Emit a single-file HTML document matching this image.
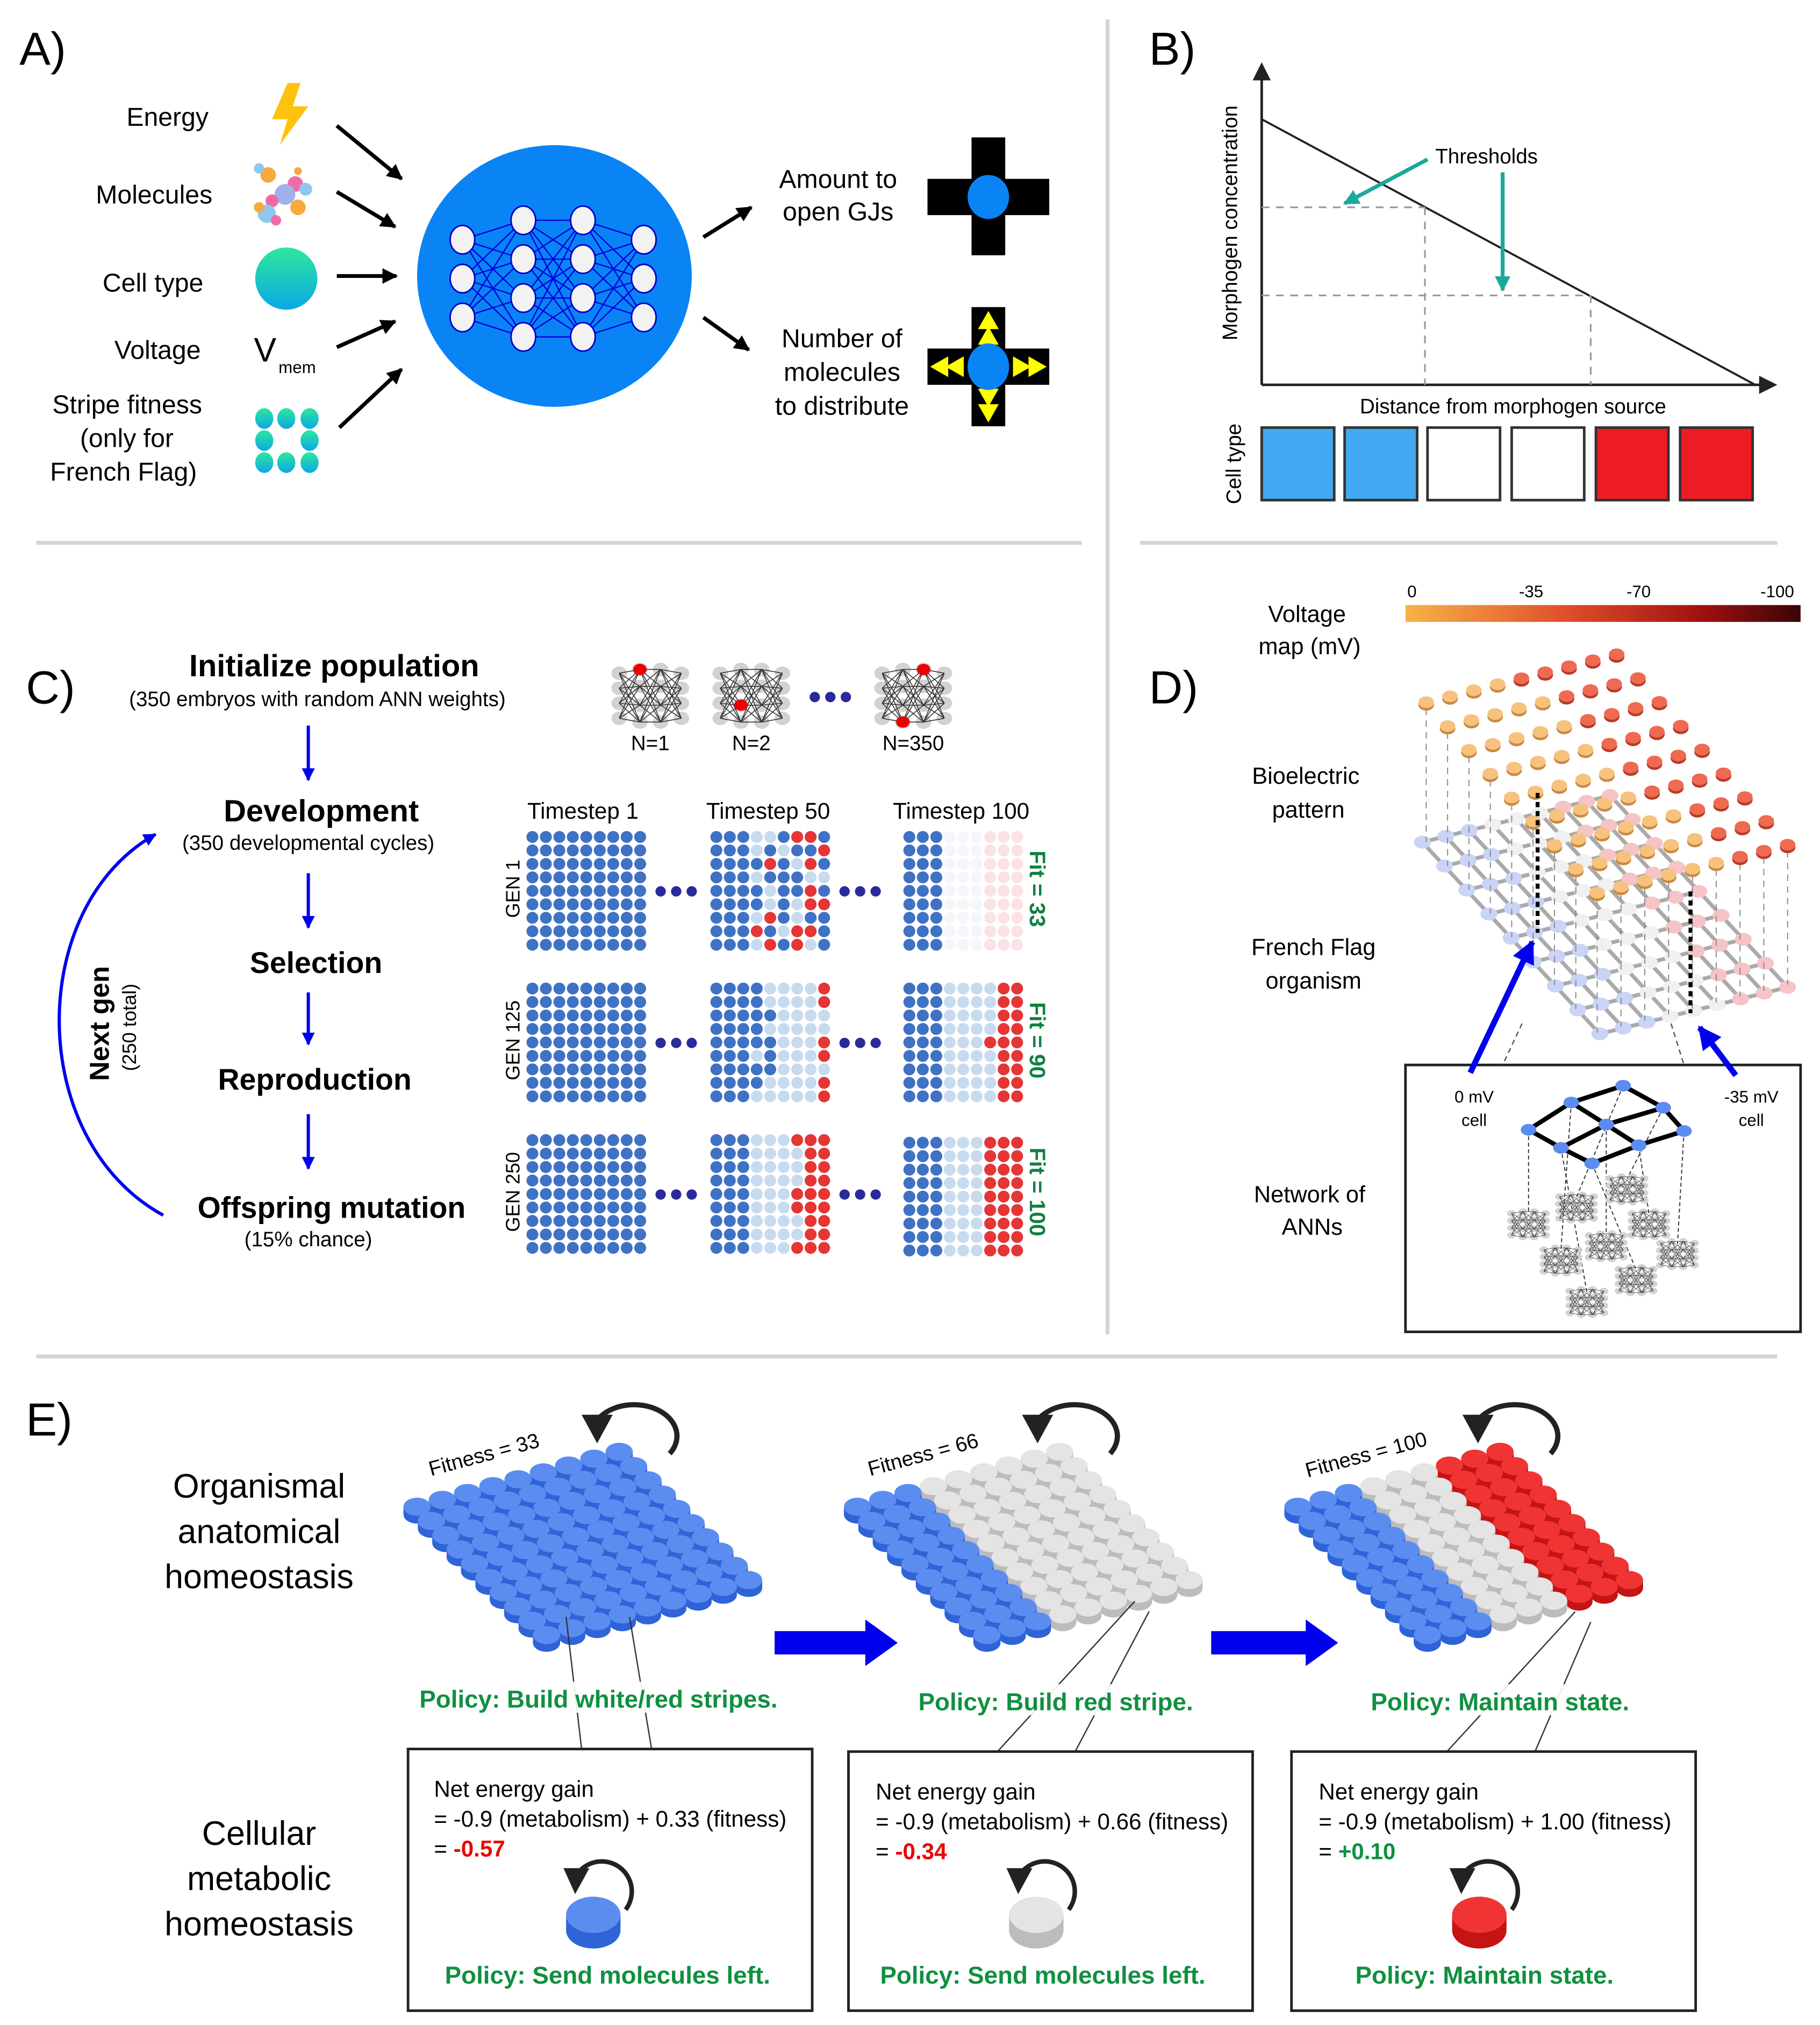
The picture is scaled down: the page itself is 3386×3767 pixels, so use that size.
<!DOCTYPE html>
<html><head><meta charset="utf-8">
<style>
html,body{margin:0;padding:0;background:#fff;}
svg{display:block;}
text{font-family:"Liberation Sans",sans-serif;}
</style></head>
<body>
<svg id="s" xmlns="http://www.w3.org/2000/svg" width="3386" height="3767" viewBox="0 0 1405 1563">
<defs>
<marker id="ab" viewBox="0 0 10 10" refX="9" refY="5" markerWidth="4" markerHeight="4" orient="auto"><path d="M0,0L10,5L0,10z" fill="#000"/></marker>
<marker id="abl" viewBox="0 0 10 10" refX="9" refY="5" markerWidth="4" markerHeight="4" orient="auto"><path d="M0,0L10,5L0,10z" fill="#0000ee"/></marker>
<marker id="at" viewBox="0 0 10 10" refX="9" refY="5" markerWidth="4" markerHeight="4" orient="auto"><path d="M0,0L10,5L0,10z" fill="#1aa89a"/></marker>
<linearGradient id="vg" x1="0" x2="1"><stop offset="0" stop-color="#f7b348"/><stop offset="0.4" stop-color="#e0502a"/><stop offset="0.75" stop-color="#a01010"/><stop offset="1" stop-color="#3a0505"/></linearGradient>
<linearGradient id="tg" x1="0" y1="0" x2="0" y2="1"><stop offset="0" stop-color="#2de89a"/><stop offset="1" stop-color="#0aa8e8"/></linearGradient>
</defs>

<g stroke="#d4d4d4" stroke-width="3">
<line x1="28" y1="419" x2="835" y2="419"/>
<line x1="855" y1="15" x2="855" y2="1030"/>
<line x1="880" y1="419" x2="1372" y2="419"/>
<line x1="28" y1="1047" x2="1372" y2="1047"/>
</g>

<!-- Panel A -->
<text x="15" y="50" font-size="36">A)</text>
<g font-size="20" text-anchor="end">
<text x="161" y="97">Energy</text>
<text x="164" y="157">Molecules</text>
<text x="157" y="225">Cell type</text>
<text x="155" y="277">Voltage</text>
<text x="156" y="319">Stripe fitness</text>
<text x="134" y="345">(only for</text>
<text x="152" y="371">French Flag)</text>
</g>
<path d="M222,64 L210,92 L222,92 L216,112 L238,82 L226,82 L232,64z" fill="#ffc20e"/>
<g>
<circle cx="207" cy="135" r="6" fill="#f7a93b"/><circle cx="200" cy="130" r="4" fill="#8ec8f0"/>
<circle cx="228" cy="142" r="6" fill="#f06aa8"/><circle cx="236" cy="146" r="5" fill="#8ec8f0"/>
<circle cx="220" cy="150" r="8" fill="#a0b0e8"/><circle cx="210" cy="155" r="5" fill="#f06aa8"/>
<circle cx="230" cy="160" r="6" fill="#f7a93b"/><circle cx="206" cy="165" r="7" fill="#8ec8f0"/>
<circle cx="213" cy="170" r="4" fill="#f06aa8"/><circle cx="200" cy="160" r="4" fill="#f7a93b"/><circle cx="230" cy="132" r="3" fill="#f7a93b"/>
</g>
<circle cx="221" cy="215" r="24" fill="url(#tg)"/>
<text x="196" y="279" font-size="26" font-family="Liberation Serif">V</text>
<text x="215" y="288" font-size="13" font-family="Liberation Serif">mem</text>
<g fill="url(#tg)">
<ellipse cx="204" cy="323" rx="7" ry="8"/><ellipse cx="221" cy="323" rx="7" ry="8"/><ellipse cx="239" cy="323" rx="7" ry="8"/>
<ellipse cx="204" cy="340" rx="7" ry="8"/><ellipse cx="239" cy="340" rx="7" ry="8"/>
<ellipse cx="204" cy="357" rx="7" ry="8"/><ellipse cx="221" cy="357" rx="7" ry="8"/><ellipse cx="239" cy="357" rx="7" ry="8"/>
</g>
<g stroke="#000" stroke-width="3" marker-end="url(#ab)">
<line x1="260" y1="97" x2="310" y2="138"/>
<line x1="260" y1="148" x2="305" y2="175"/>
<line x1="260" y1="213" x2="306" y2="213"/>
<line x1="260" y1="268" x2="305" y2="248"/>
<line x1="262" y1="330" x2="310" y2="285"/>
<line x1="543" y1="183" x2="580" y2="160"/>
<line x1="543" y1="245" x2="578" y2="270"/>
</g>
<ellipse cx="428" cy="213" rx="106" ry="101" fill="#0a84f5"/>
<g id="nn"></g>
<g font-size="20" text-anchor="middle">
<text x="647" y="145">Amount to</text><text x="647" y="170">open GJs</text>
<text x="650" y="268">Number of</text><text x="650" y="294">molecules</text><text x="650" y="320">to distribute</text>
</g>
<rect x="750" y="106" width="26" height="91" fill="#000"/><rect x="716" y="138" width="94" height="28" fill="#000"/>
<ellipse cx="763" cy="152" rx="16" ry="17" fill="#0a84f5"/>
<rect x="750" y="237" width="26" height="92" fill="#000"/><rect x="716" y="269" width="94" height="28" fill="#000"/>
<g fill="#ffff00">
<path d="M763,240 L755,254 L771,254z"/><path d="M763,252 L755,266 L771,266z"/>
<path d="M763,326 L755,312 L771,312z"/><path d="M763,314 L755,300 L771,300z"/>
<path d="M718,283 L732,275 L732,291z"/><path d="M730,283 L744,275 L744,291z"/>
<path d="M808,283 L794,275 L794,291z"/><path d="M796,283 L782,275 L782,291z"/>
</g>
<ellipse cx="763" cy="283" rx="16" ry="18" fill="#0a84f5"/>

<!-- Panel B -->
<text x="887" y="50" font-size="36">B)</text>
<g stroke="#222" stroke-width="2" fill="none">
<line x1="974" y1="297" x2="974" y2="58"/><line x1="974" y1="297" x2="1362" y2="297"/>
<line x1="974" y1="92" x2="1355" y2="297" stroke-width="1.6"/>
</g>
<path d="M974,48 L967,62 L981,62z" fill="#222"/><path d="M1372,297 L1358,290 L1358,304z" fill="#222"/>
<g stroke="#999" stroke-width="1.3" stroke-dasharray="6,5">
<line x1="974" y1="160" x2="1100" y2="160"/><line x1="1100" y1="160" x2="1100" y2="297"/>
<line x1="974" y1="228" x2="1228" y2="228"/><line x1="1228" y1="228" x2="1228" y2="297"/>
</g>
<text x="1108" y="126" font-size="16">Thresholds</text>
<g stroke="#1aa89a" stroke-width="3" marker-end="url(#at)">
<line x1="1102" y1="123" x2="1038" y2="157"/><line x1="1160" y1="133" x2="1160" y2="224"/>
</g>
<text transform="translate(955,172) rotate(-90)" font-size="16" text-anchor="middle">Morphogen concentration</text>
<text x="1168" y="319" font-size="16" text-anchor="middle">Distance from morphogen source</text>
<text transform="translate(958,358) rotate(-90)" font-size="16" text-anchor="middle">Cell type</text>
<g stroke="#333" stroke-width="2">
<rect x="974" y="330" width="56" height="56" fill="#42a8f2"/>
<rect x="1038" y="330" width="56" height="56" fill="#42a8f2"/>
<rect x="1102" y="330" width="56" height="56" fill="#fff"/>
<rect x="1167" y="330" width="56" height="56" fill="#fff"/>
<rect x="1232" y="330" width="56" height="56" fill="#ed1c24"/>
<rect x="1297" y="330" width="56" height="56" fill="#ed1c24"/>
</g>

<!-- Panel C -->
<text x="20" y="543" font-size="36">C)</text>
<g text-anchor="middle">
<text x="258" y="522" font-size="24" font-weight="bold">Initialize population</text>
<text x="245" y="545" font-size="16">(350 embryos with random ANN weights)</text>
<text x="248" y="634" font-size="24" font-weight="bold">Development</text>
<text x="238" y="656" font-size="16">(350 developmental cycles)</text>
<text x="244" y="751" font-size="23" font-weight="bold">Selection</text>
<text x="243" y="841" font-size="23" font-weight="bold">Reproduction</text>
<text x="256" y="940" font-size="23" font-weight="bold">Offspring mutation</text>
<text x="238" y="962" font-size="16">(15% chance)</text>
</g>
<g stroke="#0000ee" stroke-width="2.5" marker-end="url(#abl)">
<line x1="238" y1="560" x2="238" y2="602"/><line x1="238" y1="674" x2="238" y2="716"/>
<line x1="238" y1="766" x2="238" y2="806"/><line x1="238" y1="860" x2="238" y2="902"/>
<path d="M126,938 C20,880 20,700 120,644" fill="none"/>
</g>
<text transform="translate(84,790) rotate(-90)" font-size="21" font-weight="bold" text-anchor="middle">Next gen</text>
<text transform="translate(105,793) rotate(-90)" font-size="15" text-anchor="middle">(250 total)</text>
<g id="anns"></g>
<g fill="#2a2a9a"><circle cx="629" cy="538" r="4"/><circle cx="641" cy="538" r="4"/><circle cx="653" cy="538" r="4"/></g>
<g font-size="16" text-anchor="middle"><text x="502" y="579">N=1</text><text x="580" y="579">N=2</text><text x="705" y="579">N=350</text></g>
<g font-size="17.5" text-anchor="middle"><text x="450" y="632">Timestep 1</text><text x="593" y="632">Timestep 50</text><text x="742" y="632">Timestep 100</text></g>
<g id="grids"></g>
<g font-size="15" text-anchor="middle">
<text transform="translate(401,686) rotate(-90)">GEN 1</text>
<text transform="translate(401,803) rotate(-90)">GEN 125</text>
<text transform="translate(401,920) rotate(-90)">GEN 250</text>
</g>
<g font-size="17" font-weight="bold" fill="#108040" text-anchor="middle">
<text transform="translate(795,686) rotate(90)">Fit = 33</text>
<text transform="translate(795,803) rotate(90)">Fit = 90</text>
<text transform="translate(795,920) rotate(90)">Fit = 100</text>
</g>

<!-- Panel D -->
<text x="887" y="543" font-size="36">D)</text>
<rect x="1085" y="467" width="305" height="13" fill="url(#vg)"/>
<g font-size="13" text-anchor="middle"><text x="1090" y="461">0</text><text x="1182" y="461">-35</text><text x="1265" y="461">-70</text><text x="1372" y="461">-100</text></g>
<g font-size="18" text-anchor="middle">
<text x="1009" y="480">Voltage</text><text x="1011" y="505">map (mV)</text>
<text x="1008" y="605">Bioelectric</text><text x="1010" y="631">pattern</text>
<text x="1014" y="737">French Flag</text><text x="1014" y="763">organism</text>
<text x="1011" y="928">Network of</text><text x="1013" y="953">ANNs</text>
</g>
<g id="lat"></g>
<rect x="1085" y="822" width="305" height="206" fill="none" stroke="#222" stroke-width="2"/>
<g stroke="#555" stroke-width="1" stroke-dasharray="4,3"><line x1="1175" y1="790" x2="1160" y2="822"/><line x1="1290" y1="790" x2="1300" y2="822"/></g>
<g stroke="#0000ee" stroke-width="4.5" marker-end="url(#abl)">
<line x1="1135" y1="828" x2="1183" y2="727"/><line x1="1340" y1="830" x2="1312" y2="793"/>
</g>
<g font-size="13" text-anchor="middle"><text x="1138" y="851">0 mV</text><text x="1138" y="869">cell</text><text x="1352" y="851">-35 mV</text><text x="1352" y="869">cell</text></g>
<g id="inset"></g>

<!-- Panel E -->
<text x="20" y="1108" font-size="36">E)</text>
<g font-size="26" text-anchor="middle">
<text x="200" y="1156">Organismal</text><text x="200" y="1191">anatomical</text><text x="200" y="1226">homeostasis</text>
<text x="200" y="1424">Cellular</text><text x="200" y="1459">metabolic</text><text x="200" y="1494">homeostasis</text>
</g>
<g id="disks"></g>
<g font-size="16" text-anchor="middle">
<text transform="translate(375,1128) rotate(-15)">Fitness = 33</text>
<text transform="translate(714,1128) rotate(-15)">Fitness = 66</text>
<text transform="translate(1056,1128) rotate(-15)">Fitness = 100</text>
</g>
<path d="M598,1259 H668 V1250 L693,1268 L668,1286 V1277 H598z" fill="#0000ee"/>
<path d="M935,1259 H1008 V1250 L1033,1268 L1008,1286 V1277 H935z" fill="#0000ee"/>
<g stroke="#333" stroke-width="1">
<line x1="437" y1="1248" x2="449" y2="1350"/><line x1="486" y1="1248" x2="503" y2="1350"/>
<line x1="876" y1="1236" x2="770" y2="1352"/><line x1="887" y1="1244" x2="830" y2="1352"/>
<line x1="1216" y1="1244" x2="1117" y2="1352"/><line x1="1228" y1="1252" x2="1185" y2="1352"/>
</g>
<g fill="#fff" opacity="0.9">
<rect x="320" y="1298" width="290" height="24"/><rect x="705" y="1300" width="220" height="24"/><rect x="1055" y="1300" width="210" height="24"/>
</g>
<g font-size="19" font-weight="bold" fill="#109040" text-anchor="middle">
<text x="462" y="1318">Policy: Build white/red stripes.</text>
<text x="815" y="1320">Policy: Build red stripe.</text>
<text x="1158" y="1320">Policy: Maintain state.</text>
</g>
<g stroke="#222" stroke-width="2" fill="#fff">
<rect x="315" y="1350" width="312" height="202"/>
<rect x="655" y="1352" width="312" height="200"/>
<rect x="997" y="1352" width="312" height="200"/>
</g>
<g font-size="17.5">
<text x="335" y="1387">Net energy gain</text><text x="335" y="1410">= -0.9 (metabolism) + 0.33 (fitness)</text>
<text x="335" y="1433">= <tspan fill="#e00" font-weight="bold">-0.57</tspan></text>
<text x="676" y="1389">Net energy gain</text><text x="676" y="1412">= -0.9 (metabolism) + 0.66 (fitness)</text>
<text x="676" y="1435">= <tspan fill="#e00" font-weight="bold">-0.34</tspan></text>
<text x="1018" y="1389">Net energy gain</text><text x="1018" y="1412">= -0.9 (metabolism) + 1.00 (fitness)</text>
<text x="1018" y="1435">= <tspan fill="#109040" font-weight="bold">+0.10</tspan></text>
</g>
<g font-size="19" font-weight="bold" fill="#109040" text-anchor="middle">
<text x="469" y="1531">Policy: Send molecules left.</text>
<text x="805" y="1531">Policy: Send molecules left.</text>
<text x="1146" y="1531">Policy: Maintain state.</text>
</g>
<g id="single"></g>
</svg>
<script>
var NS="http://www.w3.org/2000/svg";
function el(p,t,a){var e=document.createElementNS(NS,t);for(var k in a)e.setAttribute(k,a[k]);p.appendChild(e);return e;}
function G(id){return document.getElementById(id);}
(function(){var g=G("nn");var L=[[357,[185,215,245]],[404,[170,200,230,260]],[450,[170,200,230,260]],[497,[185,215,245]]];
for(var l=0;l<3;l++)for(var a=0;a<L[l][1].length;a++)for(var b=0;b<L[l+1][1].length;b++)el(g,"line",{x1:L[l][0],y1:L[l][1][a],x2:L[l+1][0],y2:L[l+1][1][b],stroke:"#0000dd","stroke-width":1});
L.forEach(function(c){c[1].forEach(function(y){el(g,"ellipse",{cx:c[0],cy:y,rx:9.5,ry:11,fill:"#f2f2f2",stroke:"#0000cc","stroke-width":1.2});});});})();
function ann(g,cx,cy,sx,sy,red){var xs=[-12,-4,4,12],ys=[[-12,-4,4,12],[-14,-5,5,14],[-14,-5,5,14],[-12,-4,4,12]];
for(var l=0;l<4;l++)for(var a=0;a<4;a++)el(g,"ellipse",{cx:cx+xs[l]*sx,cy:cy+ys[l][a]*sy,rx:3*sx,ry:3.6*sy,fill:"#d2d2d2"});
for(var l=0;l<3;l++)for(var a=0;a<4;a++)for(var b=0;b<4;b++)el(g,"line",{x1:cx+xs[l]*sx,y1:cy+ys[l][a]*sy,x2:cx+xs[l+1]*sx,y2:cy+ys[l+1][b]*sy,stroke:"#333","stroke-width":0.45*sy});
if(red)red.forEach(function(r){el(g,"ellipse",{cx:cx+xs[r[0]]*sx,cy:cy+ys[r[0]][r[1]]*sy,rx:2.6*sx,ry:3*sy,fill:"#e00"});});}
ann(G("anns"),502,537,2.0,1.45,[[1,0]]);ann(G("anns"),580,537,2.0,1.45,[[1,2]]);ann(G("anns"),705,537,2.0,1.45,[[2,0],[1,3]]);
(function(){var g=G("grids");var C={B:"#3f72c4",L:"#c8dbee",R:"#e53535",W:"#f4f6fa",P:"#fbe2e4"};
function rep(s){var a=[];for(var i=0;i<9;i++)a.push(s);return a;}
var P=[[rep("BBBBBBBBB"),["BBBLLBRRB","BBBLBLBBR","BBBBRBLRB","BBBLBBBLL","BBBBLBBRB","BBBBLBLRR","BBBLRBLBB","BBBRBLRRB","BBBLRBRLB"],rep("BBBWWWPPP")],
[rep("BBBBBBBBB"),["BBBBLLLLR","BBBBLLLLR","BBBBBLLLL","BBBBLLLLL","BBBBBLLLR","BBBLBLLLR","BBBBBLLLL","BBBBLLLLR","BBBLLLLLR"],["BBBLLLLRR","BBBLLLLRR","BBBLLLLRR","BBBLLLLRR","BBBLLLRRR","BBBLLLLRR","BBBLLLLRR","BBBLLLLRR","BBBLLLLRR"]],
[rep("BBBBBBBBB"),["BBBLLLRRR","BBBLLLLRR","BBBLLLLRR","BBBLLLLRR","BBBLLLRRR","BBBLLLRRR","BBBLLLLRR","BBBLLLLRR","BBBLLLRRR"],rep("BBBLLLRRR")]];
var X=[411,553,702],Y=[646,763,880];
for(var r=0;r<3;r++){for(var c=0;c<3;c++){var p=P[r][c];for(var i=0;i<9;i++)for(var j=0;j<9;j++)el(g,"circle",{cx:X[c]+j*10.4,cy:Y[r]+i*10.4+(c==2&&r==2?2:0),r:4.6,fill:C[p[i][j]]});}
var dy=Y[r]+42;[0,1].forEach(function(k){var x0=k?652:510;for(var d=0;d<3;d++)el(g,"circle",{cx:x0+d*12,cy:dy,r:4,fill:"#2a2a9a"});});}})();
(function(){var g=G("lat");
var L0=[1098,650],U=[(1243-1098)/8,(614-650)/8],V=[(1380-1243)/8,(762-614)/8];
function lp(i,j){return [L0[0]+i*U[0]+j*V[0],L0[1]+i*U[1]+j*V[1]];}
for(var i=0;i<9;i++)for(var j=0;j<9;j++){var a=lp(i,j);if(i<8){var b=lp(i+1,j);el(g,"line",{x1:a[0],y1:a[1],x2:b[0],y2:b[1],stroke:"#aaa","stroke-width":3});}
if(j<8){var b=lp(i,j+1);el(g,"line",{x1:a[0],y1:a[1],x2:b[0],y2:b[1],stroke:"#aaa","stroke-width":3});}}
for(var j=0;j<9;j++)for(var i=0;i<9;i++){var a=lp(i,j);var col=i<3?"#c9d4f6":(i<6?"#f0f0f0":"#f6c4c6");el(g,"ellipse",{cx:a[0],cy:a[1],rx:6.5,ry:5,fill:col});}
var D0=[1101,542],DU=[(1248-1101)/8,(505-542)/8],DV=[(1380-1248)/8,(652-505)/8];
function dp(i,j){return [D0[0]+i*DU[0]+j*DV[0],D0[1]+i*DU[1]+j*DV[1]];}
for(var i=0;i<9;i++)for(var j=0;j<9;j++){var a=dp(i,j);if(i==0||j==8)el(g,"line",{x1:a[0],y1:a[1]+5,x2:a[0],y2:a[1]+108,stroke:"#888","stroke-width":0.8,"stroke-dasharray":"5,4"});}
for(var i=8;i>=0;i--)for(var j=0;j<9;j++){var a=dp(i,j);
var orange=(i < 4 + j*0.2);
el(g,"ellipse",{cx:a[0],cy:a[1]+2,rx:6,ry:4.5,fill:orange?"#c98a40":"#b83a2a"});
el(g,"ellipse",{cx:a[0],cy:a[1],rx:6,ry:4.5,fill:orange?"#f7c27e":"#ee6a50"});}
el(g,"line",{x1:1187,y1:612,x2:1187,y2:720,stroke:"#000","stroke-width":3,"stroke-dasharray":"4,3"});
el(g,"line",{x1:1305,y1:688,x2:1305,y2:782,stroke:"#000","stroke-width":3,"stroke-dasharray":"4,3"});})();
(function(){var g=G("inset");var P={a:[1253,838],b:[1213,851],c:[1284,855],d:[1180,872],e:[1240,868],f:[1300,873],gg:[1205,886],h:[1265,884],k:[1229,898]};
var E=[["a","c"],["c","f"],["a","b"],["b","d"],["d","gg"],["gg","k"],["k","h"],["h","f"],["b","e"],["e","h"],["c","e"],["e","gg"]];
var nodes=[[1180,872],[1213,851],[1253,838],[1205,886],[1240,868],[1284,855],[1229,898],[1265,884],[1300,873]];
var an=[[1180,945],[1205,973],[1217,932],[1225,1005],[1240,962],[1256,918],[1263,988],[1273,945],[1295,968]];
nodes.forEach(function(n,i){el(g,"line",{x1:n[0],y1:n[1],x2:an[i][0],y2:an[i][1]-8,stroke:"#333","stroke-width":0.8,"stroke-dasharray":"3,2"});});
E.forEach(function(e){el(g,"line",{x1:P[e[0]][0],y1:P[e[0]][1],x2:P[e[1]][0],y2:P[e[1]][1],stroke:"#000","stroke-width":3.5});});
nodes.forEach(function(n){el(g,"ellipse",{cx:n[0],cy:n[1],rx:6,ry:4.5,fill:"#5c8cf0"});});
an.forEach(function(a){ann(g,a[0],a[1],1.1,0.7);});})();
function disk(g,x,y,top,side,rx,ry,th){el(g,"rect",{x:x-rx,y:y,width:2*rx,height:th,fill:side});el(g,"ellipse",{cx:x,cy:y+th,rx:rx,ry:ry,fill:side});el(g,"ellipse",{cx:x,cy:y,rx:rx,ry:ry,fill:top});}
var CB=["#5b8df0","#2f63d8"],CG=["#e4e4e4","#bcbcbc"],CR=["#f03434","#c41414"];
function diskgrid(ox,mode){var g=G("disks");var L=[ox,1163],U=[19.5,-5.3],V=[11.1,11];var list=[];
for(var i=0;i<9;i++)for(var j=0;j<10;j++)list.push([i,j,L[0]+i*U[0]+j*V[0],L[1]+i*U[1]+j*V[1]]);
list.sort(function(a,b){return a[3]-b[3];});
list.forEach(function(d){var c=CB;var s=d[0];if(mode==1)c=s<3?CB:CG;if(mode==2)c=s<3?CB:(s<6?CG:CR);disk(g,d[2],d[3],c[0],c[1],10.5,7,6);});
var cx=ox+160,cy=1100;el(g,"path",{d:"M"+(cx+35)+","+(cy+22)+" A30,22 0 1 0 "+(cx-20)+","+(cy-5),fill:"none",stroke:"#222","stroke-width":4});
el(g,"path",{d:"M"+(cx-33)+","+(cy-8)+" L"+(cx-9)+","+(cy-8)+" L"+(cx-21)+","+(cy+14)+"z",fill:"#222"});}
diskgrid(322,0);diskgrid(662,1);diskgrid(1002,2);
(function(){var g=G("single");[[458,CB],[800,CG],[1142,CR]].forEach(function(s){var x=s[0];disk(g,x,1478,s[1][0],s[1][1],21,14,12);
var cx=x+10,cy=1452;el(g,"path",{d:"M"+(cx+15)+","+(cy+22)+" A22,22 0 1 0 "+(cx-22)+","+(cy-6),fill:"none",stroke:"#222","stroke-width":3.5});
el(g,"path",{d:"M"+(cx-33)+","+(cy-10)+" L"+(cx-13)+","+(cy-10)+" L"+(cx-24)+","+(cy+10)+"z",fill:"#222"});});})();
</script>
</body></html>
